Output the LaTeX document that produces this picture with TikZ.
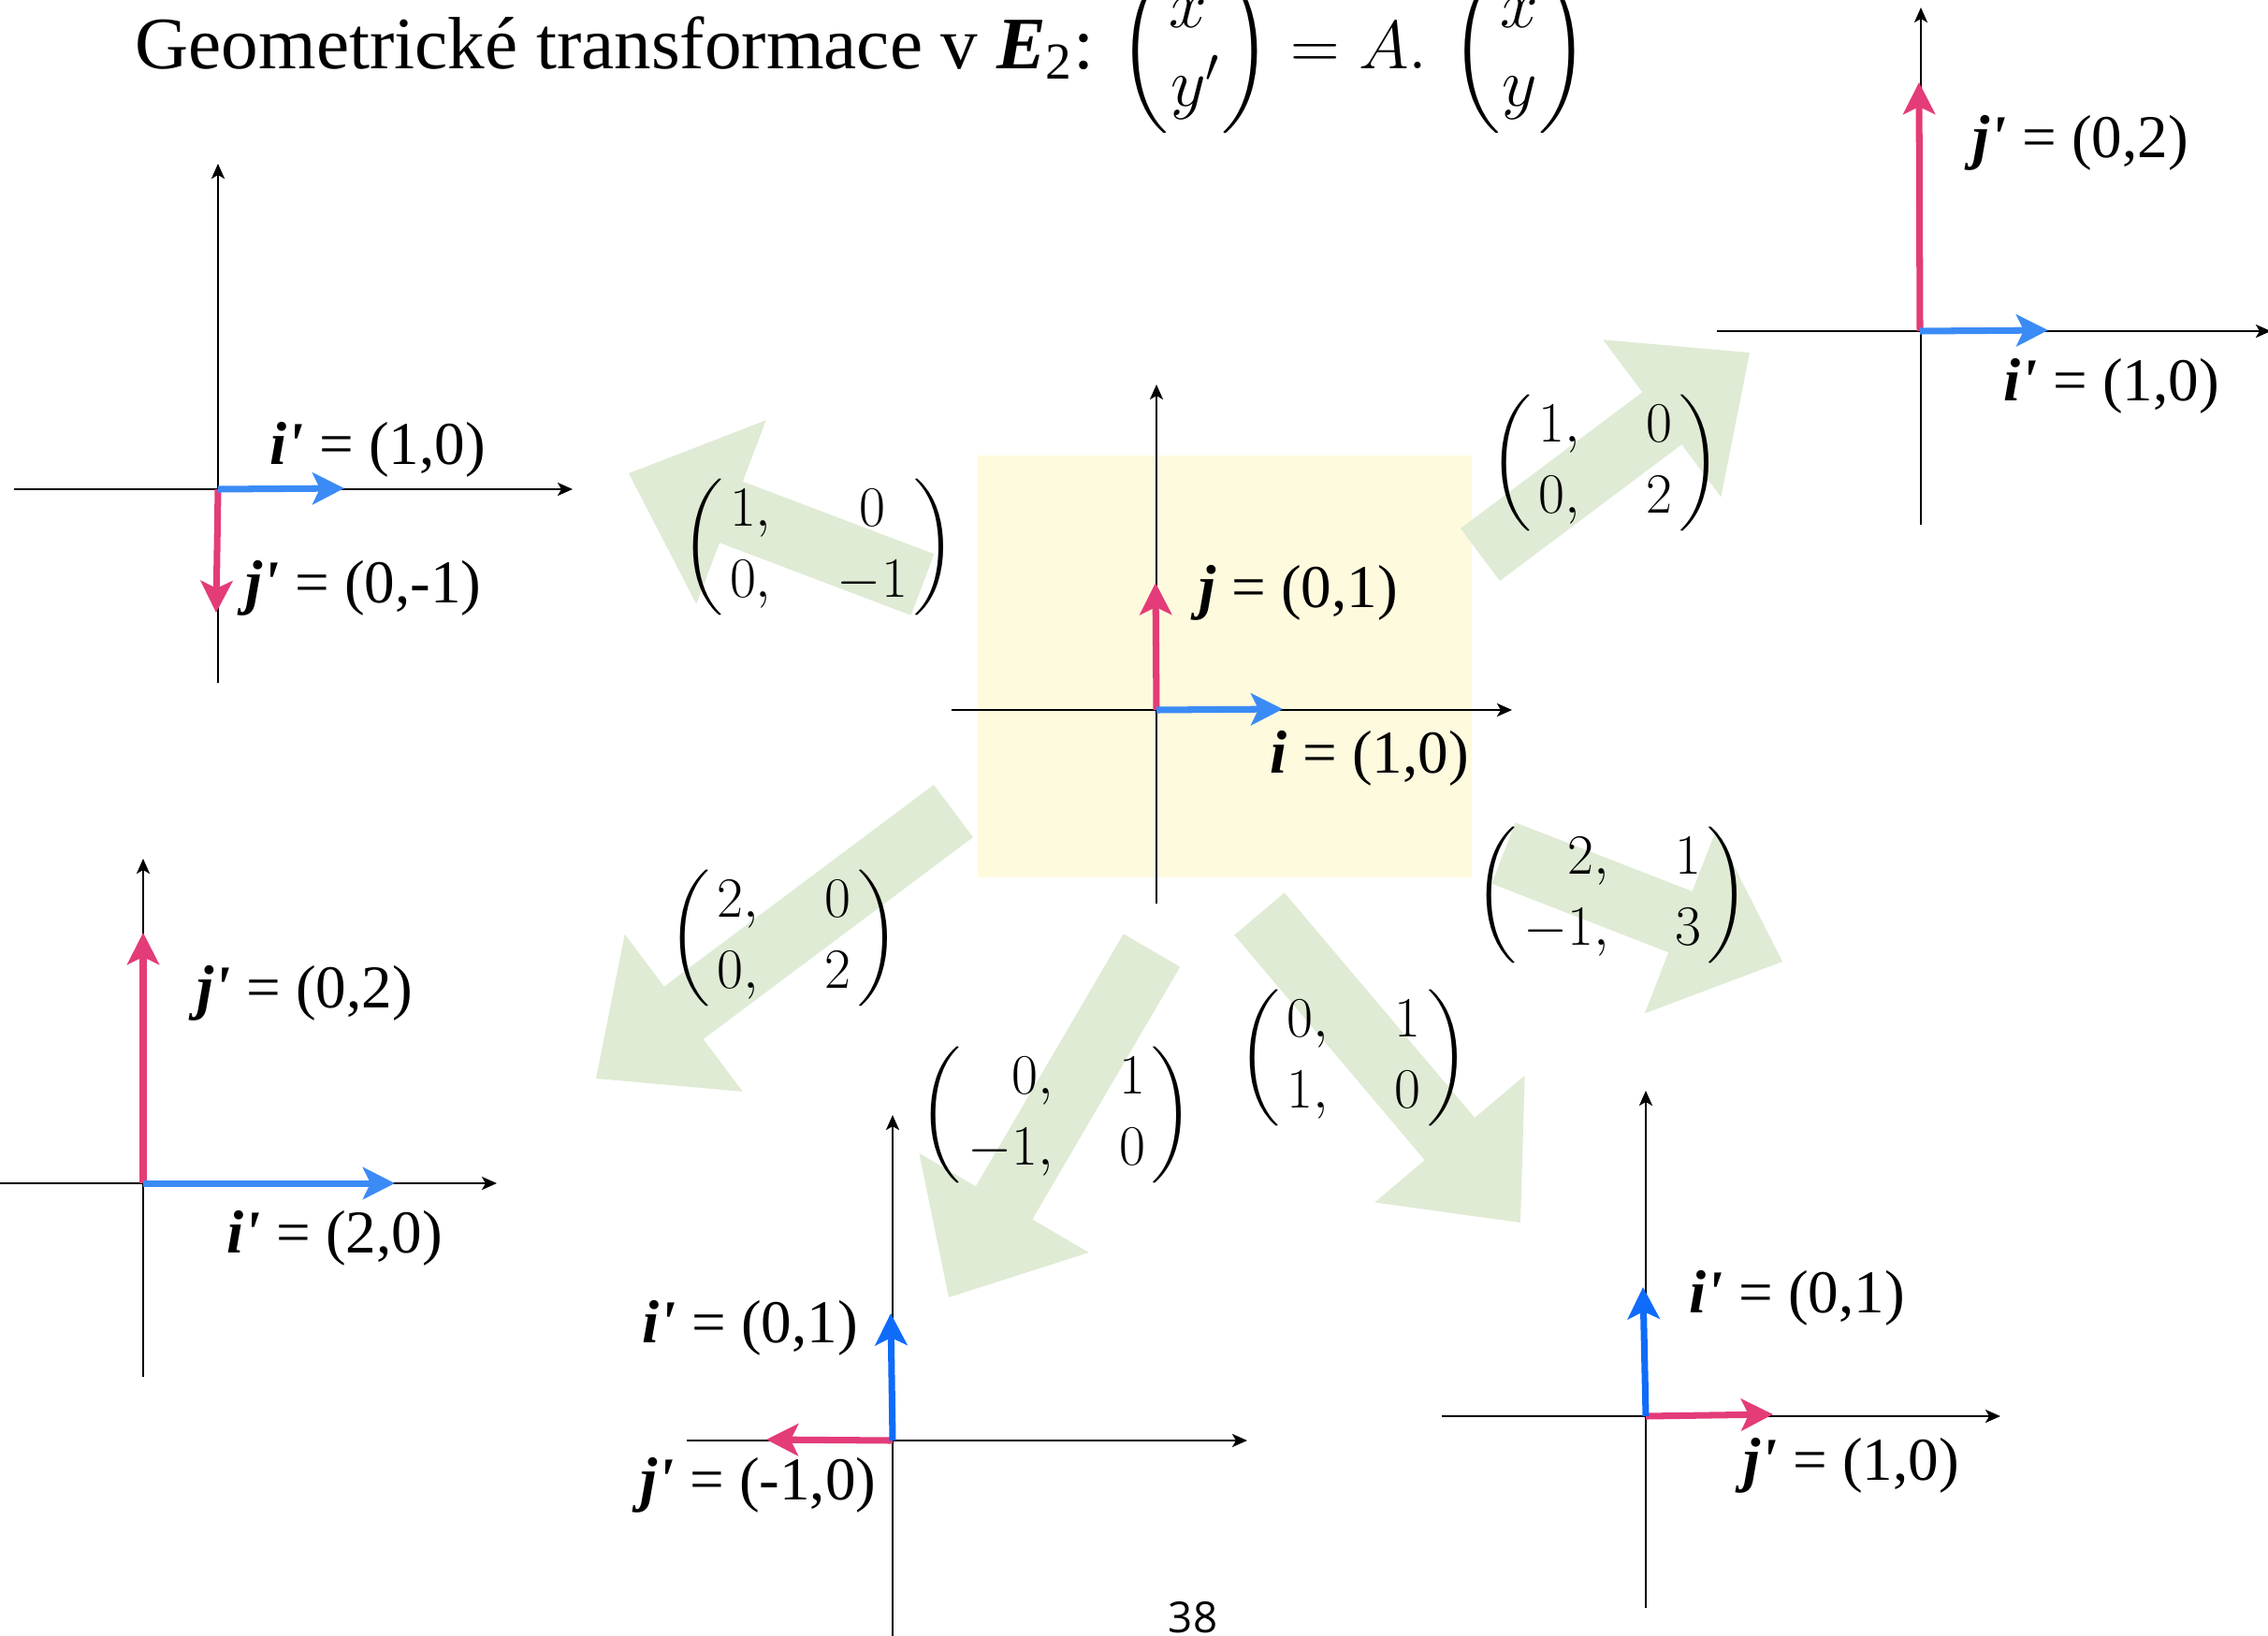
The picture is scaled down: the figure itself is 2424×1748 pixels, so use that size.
\documentclass[tikz,border=0pt]{standalone}
\usepackage{amsmath}
\usepackage[no-math]{fontspec}
\setmainfont{Liberation Serif}
\newfontfamily\pagefont{Open Sans}
\usetikzlibrary{arrows.meta,calc}

\definecolor{boxyellow}{RGB}{254,250,222}
\definecolor{arrowgreen}{RGB}{223,235,212}
\definecolor{vecblue}{RGB}{59,139,246}
\definecolor{vecbluedeep}{RGB}{15,108,250}
\definecolor{vecpink}{RGB}{227,60,120}

\newcommand{\bfit}[1]{{\bfseries\itshape #1}}
\newcommand{\tmat}[2][c]{$\left(\begin{array}{@{\hspace{2pt}}#1@{\hspace{20pt}}c@{\hspace{2pt}}}#2\end{array}\right)$}
\newcommand{\bigarrow}[2]{%
  \path ($(#2)!1.17cm!(#1)$) coordinate (hb);
  \fill[arrowgreen] ($(#1)!0.35cm!90:(#2)$) -- ($(hb)!0.35cm!90:(#2)$)
    -- ($(hb)!1.05cm!90:(#2)$) -- (#2) -- ($(hb)!1.05cm!-90:(#2)$)
    -- ($(hb)!0.35cm!-90:(#2)$) -- ($(#1)!0.35cm!-90:(#2)$) -- cycle;}

\begin{document}
\begin{tikzpicture}[x=0.01cm, y=-0.01cm,
    axis/.style={line width=0.7pt, -{Stealth[length=0.16cm, width=0.14cm, inset=0.04cm]}},
    ivec/.style={draw=vecblue, line width=2pt, -{Stealth[length=0.34cm, width=0.34cm, inset=0.08cm]}},
    ivecdeep/.style={ivec, draw=vecbluedeep},
    jvec/.style={ivec, draw=vecpink},
    lbl/.style={anchor=west, inner sep=0pt, font=\fontsize{18.5}{22}\selectfont},
    mat/.style={inner sep=0pt, font=\fontsize{18}{21.6}\selectfont}]
  \useasboundingbox (0,0) rectangle (2424,1748);
  \clip (0,0) rectangle (2424,1748);

  \node[anchor=base west, inner sep=0pt, font=\fontsize{22.5}{27}\selectfont] (title) at (144,73)
    {Geometrické transformace v \bfit{E}\textsubscript{2}: {\fontsize{20}{24}\selectfont
     $\begin{pmatrix} x'\\ y'\end{pmatrix} = A.\,\begin{pmatrix} x\\ y\end{pmatrix}$}};

  \fill[boxyellow] (1045,487) rectangle (1573,938);

  \coordinate (t1) at (986,625);   \coordinate (p1) at (672,506);
  \coordinate (t2) at (1582,593);  \coordinate (p2) at (1870,377);
  \coordinate (t3) at (1607,912);  \coordinate (p3) at (1905,1028);
  \coordinate (t4) at (1019,867);  \coordinate (p4) at (637,1153);
  \coordinate (t5) at (1231,1016); \coordinate (p5) at (1014,1387);
  \coordinate (t6) at (1346,977);  \coordinate (p6) at (1625,1307);
  \bigarrow{t1}{p1}
  \bigarrow{t2}{p2}
  \bigarrow{t3}{p3}
  \bigarrow{t4}{p4}
  \bigarrow{t5}{p5}
  \bigarrow{t6}{p6}

  % original basis
  \draw[axis] (1017,759) -- (1616,759);
  \draw[axis] (1236,966) -- (1236,411);
  \coordinate (o0) at (1236,759);
  \coordinate (j0) at (1235,623);
  \coordinate (i0) at (1371,758);
  \draw[jvec] (o0) -- (j0);
  \draw[ivec] (o0) -- (i0);
  \node[lbl] (lj0) at (1281,634) {\bfit{j} = (0,1)};
  \node[lbl] (li0) at (1357,811) {\bfit{i} = (1,0)};

  % top left
  \draw[axis] (15,523) -- (612,523);
  \draw[axis] (233,730) -- (233,175);
  \coordinate (o1) at (233,523);
  \coordinate (i1) at (368,522);
  \coordinate (j1) at (231,655);
  \draw[jvec] (o1) -- (j1);
  \draw[ivec] (o1) -- (i1);
  \node[lbl] (li1) at (288,481) {\bfit{i\textquotesingle} = (1,0)};
  \node[lbl] (lj1) at (262,629) {\bfit{j\textquotesingle} = (0,-1)};

  % top right
  \draw[axis] (1835,354) -- (2427,354);
  \draw[axis] (2053,561) -- (2053,8);
  \coordinate (o2) at (2052,354);
  \coordinate (j2) at (2051,88);
  \coordinate (i2) at (2189,353);
  \draw[jvec] (o2) -- (j2);
  \draw[ivec] (o2) -- (i2);
  \node[lbl] (lj2) at (2108,153) {\bfit{j\textquotesingle} = (0,2)};
  \node[lbl] (li2) at (2141,413) {\bfit{i\textquotesingle} = (1,0)};

  % bottom left
  \draw[axis] (0,1265) -- (531,1265);
  \draw[axis] (153,1472) -- (153,918);
  \coordinate (o3) at (153,1265);
  \coordinate (j3) at (153,997);
  \coordinate (i3) at (422,1265);
  \draw[jvec] (o3) -- (j3);
  \draw[ivec] (o3) -- (i3);
  \node[lbl] (lj3) at (210,1062) {\bfit{j\textquotesingle} = (0,2)};
  \node[lbl] (li3) at (242,1324) {\bfit{i\textquotesingle} = (2,0)};

  % bottom middle
  \draw[axis] (734,1540) -- (1333,1540);
  \draw[axis] (954,1760) -- (954,1192);
  \coordinate (o4) at (954,1540);
  \coordinate (i4) at (952,1404);
  \coordinate (j4) at (819,1539);
  \draw[jvec] (o4) -- (j4);
  \draw[ivecdeep] (o4) -- (i4);
  \node[lbl] (li4) at (686,1420) {\bfit{i\textquotesingle} = (0,1)};
  \node[lbl] (lj4) at (684,1588) {\bfit{j\textquotesingle} = (-1,0)};

  % bottom right
  \draw[axis] (1541,1514) -- (2138,1514);
  \draw[axis] (1759,1719) -- (1759,1166);
  \coordinate (o5) at (1759,1514);
  \coordinate (i5) at (1756,1376);
  \coordinate (j5) at (1895,1512);
  \draw[jvec] (o5) -- (j5);
  \draw[ivecdeep] (o5) -- (i5);
  \node[lbl] (li5) at (1805,1388) {\bfit{i\textquotesingle} = (0,1)};
  \node[lbl] (lj5) at (1863,1567) {\bfit{j\textquotesingle} = (1,0)};

  \node[mat] (m1) at (875,585) {\tmat{1, & 0\\ 0, & -1}};
  \node[mat] (m2) at (1716,495) {\tmat{1, & 0\\ 0, & 2}};
  \node[mat] (m3) at (1723,957) {\tmat[r]{2, & 1\\ -1, & 3}};
  \node[mat] (m4) at (838,1003) {\tmat{2, & 0\\ 0, & 2}};
  \node[mat] (m5) at (1129,1192) {\tmat[r]{0, & 1\\ -1, & 0}};
  \node[mat] (m6) at (1447,1131) {\tmat{0, & 1\\ 1, & 0}};

  \node[anchor=base, inner sep=0pt, font=\pagefont\fontsize{13}{15}\selectfont] (pg) at (1275,1745) {38};
\end{tikzpicture}
\end{document}
